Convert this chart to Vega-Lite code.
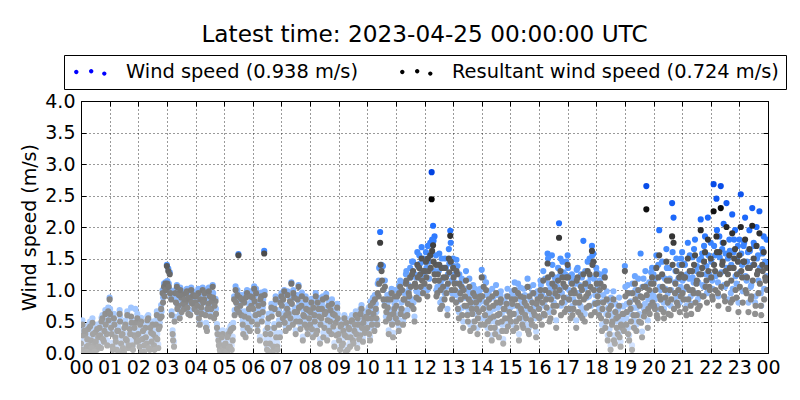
{
"$schema":"https://vega.github.io/schema/vega-lite/v6.json",
"width":687,"height":252,
"autosize":{"type":"none"},
"padding":{"left":81,"top":101,"right":32,"bottom":47},
"background":"white",
"title":{"text":"Latest time: 2023-04-25 00:00:00 UTC","fontSize":23.2,"font":"DejaVu Sans","fontWeight":"normal","color":"black","anchor":"middle","offset":7},
"datasets":{"ws":[
{"m":0,"w":0.22,"r":0.15},{"m":3,"w":0.52,"r":0.45},{"m":6,"w":0.12,"r":0.05},{"m":9,"w":0.36,"r":0.30},{"m":12,"w":0.18,"r":0.10},{"m":15,"w":0.44,"r":0.38},{"m":18,"w":0.08,"r":0.02},{"m":21,"w":0.28,"r":0.20},{"m":24,"w":0.55,"r":0.48},{"m":27,"w":0.20,"r":0.12},{"m":30,"w":0.40,"r":0.33},{"m":33,"w":0.10,"r":0.05},{"m":36,"w":0.32,"r":0.25},{"m":39,"w":0.46,"r":0.40},{"m":42,"w":0.15,"r":0.08},{"m":45,"w":0.60,"r":0.55},{"m":48,"w":0.25,"r":0.18},{"m":51,"w":0.68,"r":0.62},{"m":54,"w":0.36,"r":0.30},{"m":57,"w":0.72,"r":0.66},
{"m":1,"w":0.12,"r":0.05},{"m":4,"w":0.35,"r":0.28},{"m":7,"w":0.42,"r":0.35},{"m":10,"w":0.08,"r":0.02},{"m":13,"w":0.30,"r":0.22},{"m":16,"w":0.20,"r":0.12},{"m":19,"w":0.50,"r":0.42},{"m":22,"w":0.15,"r":0.08},{"m":25,"w":0.36,"r":0.30},{"m":28,"w":0.08,"r":0.02},{"m":31,"w":0.25,"r":0.18},{"m":34,"w":0.45,"r":0.38},{"m":37,"w":0.18,"r":0.10},{"m":40,"w":0.34,"r":0.28},{"m":43,"w":0.56,"r":0.50},{"m":46,"w":0.30,"r":0.22},{"m":49,"w":0.42,"r":0.35},{"m":52,"w":0.52,"r":0.45},{"m":55,"w":0.20,"r":0.12},{"m":58,"w":0.60,"r":0.52},
{"m":60,"w":0.88,"r":0.85},{"m":63,"w":0.48,"r":0.40},{"m":66,"w":0.16,"r":0.10},{"m":69,"w":0.62,"r":0.55},{"m":72,"w":0.32,"r":0.25},{"m":75,"w":0.12,"r":0.05},{"m":78,"w":0.42,"r":0.35},{"m":81,"w":0.68,"r":0.62},{"m":84,"w":0.22,"r":0.15},{"m":87,"w":0.36,"r":0.30},{"m":90,"w":0.08,"r":0.02},{"m":93,"w":0.52,"r":0.45},{"m":96,"w":0.26,"r":0.20},{"m":99,"w":0.14,"r":0.08},{"m":102,"w":0.44,"r":0.38},{"m":105,"w":0.72,"r":0.58},{"m":108,"w":0.20,"r":0.12},{"m":111,"w":0.34,"r":0.28},{"m":114,"w":0.70,"r":0.48},{"m":117,"w":0.24,"r":0.18},
{"m":61,"w":0.70,"r":0.62},{"m":64,"w":0.38,"r":0.30},{"m":67,"w":0.12,"r":0.05},{"m":70,"w":0.52,"r":0.45},{"m":73,"w":0.25,"r":0.18},{"m":76,"w":0.42,"r":0.35},{"m":79,"w":0.08,"r":0.02},{"m":82,"w":0.58,"r":0.50},{"m":85,"w":0.35,"r":0.28},{"m":88,"w":0.15,"r":0.08},{"m":91,"w":0.48,"r":0.40},{"m":94,"w":0.30,"r":0.22},{"m":97,"w":0.66,"r":0.60},{"m":100,"w":0.20,"r":0.12},{"m":103,"w":0.36,"r":0.30},{"m":106,"w":0.55,"r":0.48},{"m":109,"w":0.12,"r":0.05},{"m":112,"w":0.48,"r":0.40},{"m":115,"w":0.32,"r":0.25},{"m":118,"w":0.62,"r":0.55},
{"m":120,"w":0.36,"r":0.30},{"m":123,"w":0.16,"r":0.10},{"m":126,"w":0.56,"r":0.50},{"m":129,"w":0.28,"r":0.22},{"m":132,"w":0.08,"r":0.02},{"m":135,"w":0.46,"r":0.40},{"m":138,"w":0.22,"r":0.15},{"m":141,"w":0.60,"r":0.55},{"m":144,"w":0.12,"r":0.05},{"m":147,"w":0.38,"r":0.32},{"m":150,"w":0.50,"r":0.45},{"m":153,"w":0.18,"r":0.12},{"m":156,"w":0.32,"r":0.25},{"m":159,"w":0.66,"r":0.60},{"m":162,"w":0.14,"r":0.08},{"m":165,"w":0.48,"r":0.42},{"m":168,"w":0.76,"r":0.70},{"m":171,"w":1.00,"r":0.95},{"m":174,"w":1.10,"r":1.05},{"m":177,"w":1.12,"r":1.10},
{"m":121,"w":0.28,"r":0.20},{"m":124,"w":0.52,"r":0.45},{"m":127,"w":0.08,"r":0.02},{"m":130,"w":0.42,"r":0.35},{"m":133,"w":0.20,"r":0.12},{"m":136,"w":0.32,"r":0.25},{"m":139,"w":0.58,"r":0.52},{"m":142,"w":0.15,"r":0.08},{"m":145,"w":0.48,"r":0.40},{"m":148,"w":0.25,"r":0.18},{"m":151,"w":0.36,"r":0.30},{"m":154,"w":0.12,"r":0.05},{"m":157,"w":0.52,"r":0.45},{"m":160,"w":0.30,"r":0.22},{"m":163,"w":0.45,"r":0.38},{"m":166,"w":0.62,"r":0.55},{"m":169,"w":0.66,"r":0.58},{"m":172,"w":0.88,"r":0.80},{"m":175,"w":0.98,"r":0.90},{"m":178,"w":1.06,"r":1.00},
{"m":180,"w":1.40,"r":1.38},{"m":183,"w":1.34,"r":1.30},{"m":186,"w":1.28,"r":1.25},{"m":189,"w":0.90,"r":0.85},{"m":192,"w":0.36,"r":0.30},{"m":195,"w":0.18,"r":0.10},{"m":198,"w":1.00,"r":0.95},{"m":201,"w":1.08,"r":1.05},{"m":204,"w":0.80,"r":0.75},{"m":207,"w":0.62,"r":0.55},{"m":210,"w":0.92,"r":0.88},{"m":213,"w":0.96,"r":0.92},{"m":216,"w":0.76,"r":0.70},{"m":219,"w":0.86,"r":0.80},{"m":222,"w":1.02,"r":0.98},{"m":225,"w":0.68,"r":0.62},{"m":228,"w":0.90,"r":0.85},{"m":231,"w":1.04,"r":1.00},{"m":234,"w":0.84,"r":0.78},{"m":237,"w":0.95,"r":0.90},
{"m":181,"w":1.14,"r":1.10},{"m":184,"w":1.10,"r":1.05},{"m":187,"w":1.00,"r":0.95},{"m":190,"w":0.66,"r":0.60},{"m":193,"w":0.28,"r":0.20},{"m":196,"w":0.58,"r":0.50},{"m":199,"w":0.86,"r":0.80},{"m":202,"w":0.76,"r":0.70},{"m":205,"w":0.98,"r":0.92},{"m":208,"w":1.04,"r":1.00},{"m":211,"w":0.72,"r":0.65},{"m":214,"w":0.84,"r":0.78},{"m":217,"w":0.92,"r":0.85},{"m":220,"w":1.00,"r":0.95},{"m":223,"w":0.78,"r":0.72},{"m":226,"w":0.94,"r":0.88},{"m":229,"w":0.68,"r":0.60},{"m":232,"w":0.86,"r":0.80},{"m":235,"w":0.98,"r":0.92},{"m":238,"w":0.76,"r":0.70},
{"m":240,"w":0.84,"r":0.80},{"m":243,"w":0.70,"r":0.65},{"m":246,"w":1.02,"r":0.95},{"m":249,"w":0.50,"r":0.45},{"m":252,"w":0.78,"r":0.72},{"m":255,"w":1.04,"r":1.00},{"m":258,"w":0.90,"r":0.85},{"m":261,"w":0.66,"r":0.60},{"m":264,"w":0.42,"r":0.35},{"m":267,"w":0.84,"r":0.78},{"m":270,"w":0.94,"r":0.90},{"m":273,"w":0.76,"r":0.70},{"m":276,"w":1.08,"r":1.05},{"m":279,"w":0.60,"r":0.55},{"m":282,"w":0.86,"r":0.82},{"m":285,"w":0.46,"r":0.40},{"m":288,"w":0.26,"r":0.20},{"m":291,"w":0.10,"r":0.05},{"m":294,"w":0.18,"r":0.12},{"m":297,"w":0.36,"r":0.30},
{"m":241,"w":0.96,"r":0.90},{"m":244,"w":0.82,"r":0.75},{"m":247,"w":0.62,"r":0.55},{"m":250,"w":0.92,"r":0.85},{"m":253,"w":0.70,"r":0.62},{"m":256,"w":0.86,"r":0.80},{"m":259,"w":1.00,"r":0.95},{"m":262,"w":0.48,"r":0.40},{"m":265,"w":0.78,"r":0.70},{"m":268,"w":1.04,"r":0.98},{"m":271,"w":0.66,"r":0.58},{"m":274,"w":0.88,"r":0.82},{"m":277,"w":0.95,"r":0.88},{"m":280,"w":0.82,"r":0.75},{"m":283,"w":0.70,"r":0.62},{"m":286,"w":0.38,"r":0.30},{"m":289,"w":0.20,"r":0.12},{"m":292,"w":0.08,"r":0.02},{"m":295,"w":0.32,"r":0.25},{"m":298,"w":0.15,"r":0.08},
{"m":300,"w":0.10,"r":0.05},{"m":303,"w":0.22,"r":0.15},{"m":306,"w":0.08,"r":0.02},{"m":309,"w":0.36,"r":0.30},{"m":312,"w":0.16,"r":0.10},{"m":315,"w":0.44,"r":0.38},{"m":318,"w":0.26,"r":0.20},{"m":321,"w":0.90,"r":0.85},{"m":324,"w":1.06,"r":1.00},{"m":327,"w":0.78,"r":0.70},{"m":330,"w":1.57,"r":1.55},{"m":333,"w":0.92,"r":0.88},{"m":336,"w":0.66,"r":0.60},{"m":339,"w":0.52,"r":0.45},{"m":342,"w":0.86,"r":0.80},{"m":345,"w":0.32,"r":0.25},{"m":348,"w":1.00,"r":0.95},{"m":351,"w":0.62,"r":0.55},{"m":354,"w":0.42,"r":0.35},{"m":357,"w":0.82,"r":0.75},
{"m":301,"w":0.20,"r":0.12},{"m":304,"w":0.08,"r":0.02},{"m":307,"w":0.32,"r":0.25},{"m":310,"w":0.15,"r":0.08},{"m":313,"w":0.42,"r":0.35},{"m":316,"w":0.12,"r":0.05},{"m":319,"w":0.48,"r":0.40},{"m":322,"w":0.68,"r":0.60},{"m":325,"w":0.88,"r":0.80},{"m":328,"w":1.00,"r":0.92},{"m":331,"w":0.72,"r":0.65},{"m":334,"w":0.82,"r":0.75},{"m":337,"w":0.92,"r":0.85},{"m":340,"w":0.38,"r":0.30},{"m":343,"w":0.66,"r":0.58},{"m":346,"w":0.95,"r":0.88},{"m":349,"w":0.48,"r":0.40},{"m":352,"w":0.78,"r":0.70},{"m":355,"w":0.98,"r":0.90},{"m":358,"w":0.58,"r":0.50},
{"m":360,"w":0.92,"r":0.88},{"m":363,"w":1.06,"r":1.02},{"m":366,"w":0.66,"r":0.60},{"m":369,"w":0.52,"r":0.45},{"m":372,"w":0.80,"r":0.75},{"m":375,"w":0.26,"r":0.20},{"m":378,"w":0.96,"r":0.90},{"m":381,"w":0.72,"r":0.65},{"m":384,"w":1.62,"r":1.58},{"m":387,"w":0.36,"r":0.30},{"m":390,"w":0.10,"r":0.05},{"m":393,"w":0.62,"r":0.55},{"m":396,"w":0.22,"r":0.15},{"m":399,"w":0.78,"r":0.72},{"m":402,"w":0.08,"r":0.02},{"m":405,"w":0.46,"r":0.40},{"m":408,"w":0.90,"r":0.85},{"m":411,"w":0.16,"r":0.10},{"m":414,"w":0.68,"r":0.62},{"m":417,"w":0.32,"r":0.25},
{"m":361,"w":0.78,"r":0.70},{"m":364,"w":0.90,"r":0.82},{"m":367,"w":1.02,"r":0.95},{"m":370,"w":0.42,"r":0.35},{"m":373,"w":0.70,"r":0.62},{"m":376,"w":0.92,"r":0.85},{"m":379,"w":0.58,"r":0.50},{"m":382,"w":0.85,"r":0.78},{"m":385,"w":0.98,"r":0.92},{"m":388,"w":0.22,"r":0.15},{"m":391,"w":0.48,"r":0.40},{"m":394,"w":0.08,"r":0.02},{"m":397,"w":0.38,"r":0.30},{"m":400,"w":0.65,"r":0.58},{"m":403,"w":0.18,"r":0.10},{"m":406,"w":0.78,"r":0.70},{"m":409,"w":0.32,"r":0.25},{"m":412,"w":0.12,"r":0.05},{"m":415,"w":0.52,"r":0.45},{"m":418,"w":0.88,"r":0.80},
{"m":420,"w":0.95,"r":0.90},{"m":423,"w":0.62,"r":0.55},{"m":426,"w":1.00,"r":0.98},{"m":429,"w":0.42,"r":0.35},{"m":432,"w":0.76,"r":0.70},{"m":435,"w":0.68,"r":0.62},{"m":438,"w":0.88,"r":0.82},{"m":441,"w":1.12,"r":1.10},{"m":444,"w":0.52,"r":0.45},{"m":447,"w":0.92,"r":0.88},{"m":450,"w":0.36,"r":0.30},{"m":453,"w":0.72,"r":0.65},{"m":456,"w":1.08,"r":1.05},{"m":459,"w":0.56,"r":0.50},{"m":462,"w":0.80,"r":0.75},{"m":465,"w":0.26,"r":0.20},{"m":468,"w":0.64,"r":0.58},{"m":471,"w":0.90,"r":0.85},{"m":474,"w":0.46,"r":0.40},{"m":477,"w":0.74,"r":0.68},
{"m":421,"w":0.82,"r":0.75},{"m":424,"w":0.92,"r":0.85},{"m":427,"w":0.55,"r":0.48},{"m":430,"w":0.68,"r":0.60},{"m":433,"w":0.98,"r":0.92},{"m":436,"w":0.48,"r":0.40},{"m":439,"w":0.62,"r":0.55},{"m":442,"w":0.85,"r":0.78},{"m":445,"w":1.00,"r":0.95},{"m":448,"w":0.72,"r":0.65},{"m":451,"w":0.58,"r":0.50},{"m":454,"w":0.92,"r":0.85},{"m":457,"w":0.80,"r":0.72},{"m":460,"w":0.45,"r":0.38},{"m":463,"w":0.96,"r":0.90},{"m":466,"w":0.68,"r":0.60},{"m":469,"w":0.52,"r":0.45},{"m":472,"w":0.78,"r":0.70},{"m":475,"w":0.38,"r":0.30},{"m":478,"w":0.62,"r":0.55},
{"m":480,"w":0.52,"r":0.45},{"m":483,"w":0.86,"r":0.80},{"m":486,"w":0.32,"r":0.25},{"m":489,"w":0.66,"r":0.60},{"m":492,"w":0.95,"r":0.90},{"m":495,"w":0.42,"r":0.35},{"m":498,"w":0.76,"r":0.70},{"m":501,"w":0.22,"r":0.15},{"m":504,"w":0.62,"r":0.55},{"m":507,"w":0.90,"r":0.85},{"m":510,"w":0.46,"r":0.40},{"m":513,"w":0.72,"r":0.65},{"m":516,"w":0.28,"r":0.20},{"m":519,"w":0.80,"r":0.75},{"m":522,"w":0.56,"r":0.50},{"m":525,"w":0.36,"r":0.30},{"m":528,"w":0.68,"r":0.62},{"m":531,"w":0.16,"r":0.10},{"m":534,"w":0.54,"r":0.48},{"m":537,"w":0.78,"r":0.72},
{"m":481,"w":0.72,"r":0.65},{"m":484,"w":0.45,"r":0.38},{"m":487,"w":0.80,"r":0.72},{"m":490,"w":0.58,"r":0.50},{"m":493,"w":0.38,"r":0.30},{"m":496,"w":0.88,"r":0.80},{"m":499,"w":0.66,"r":0.58},{"m":502,"w":0.52,"r":0.45},{"m":505,"w":0.78,"r":0.70},{"m":508,"w":0.32,"r":0.25},{"m":511,"w":0.70,"r":0.62},{"m":514,"w":0.94,"r":0.88},{"m":517,"w":0.60,"r":0.52},{"m":520,"w":0.42,"r":0.35},{"m":523,"w":0.75,"r":0.68},{"m":526,"w":0.85,"r":0.78},{"m":529,"w":0.50,"r":0.42},{"m":532,"w":0.68,"r":0.60},{"m":535,"w":0.35,"r":0.28},{"m":538,"w":0.62,"r":0.55},
{"m":540,"w":0.36,"r":0.30},{"m":543,"w":0.10,"r":0.05},{"m":546,"w":0.52,"r":0.45},{"m":549,"w":0.22,"r":0.15},{"m":552,"w":0.60,"r":0.55},{"m":555,"w":0.08,"r":0.02},{"m":558,"w":0.32,"r":0.25},{"m":561,"w":0.46,"r":0.40},{"m":564,"w":0.16,"r":0.10},{"m":567,"w":0.56,"r":0.50},{"m":570,"w":0.26,"r":0.20},{"m":573,"w":0.42,"r":0.35},{"m":576,"w":0.66,"r":0.60},{"m":579,"w":0.14,"r":0.08},{"m":582,"w":0.52,"r":0.45},{"m":585,"w":0.34,"r":0.28},{"m":588,"w":0.76,"r":0.70},{"m":591,"w":0.24,"r":0.18},{"m":594,"w":0.62,"r":0.55},{"m":597,"w":0.44,"r":0.38},
{"m":541,"w":0.28,"r":0.20},{"m":544,"w":0.50,"r":0.42},{"m":547,"w":0.20,"r":0.12},{"m":550,"w":0.42,"r":0.35},{"m":553,"w":0.35,"r":0.28},{"m":556,"w":0.55,"r":0.48},{"m":559,"w":0.12,"r":0.05},{"m":562,"w":0.45,"r":0.38},{"m":565,"w":0.32,"r":0.25},{"m":568,"w":0.60,"r":0.52},{"m":571,"w":0.22,"r":0.15},{"m":574,"w":0.52,"r":0.45},{"m":577,"w":0.38,"r":0.30},{"m":580,"w":0.62,"r":0.55},{"m":583,"w":0.30,"r":0.22},{"m":586,"w":0.70,"r":0.62},{"m":589,"w":0.48,"r":0.40},{"m":592,"w":0.55,"r":0.48},{"m":595,"w":0.40,"r":0.32},{"m":598,"w":0.66,"r":0.58},
{"m":600,"w":0.46,"r":0.40},{"m":603,"w":0.72,"r":0.65},{"m":606,"w":0.26,"r":0.20},{"m":609,"w":0.62,"r":0.55},{"m":612,"w":0.88,"r":0.80},{"m":615,"w":0.42,"r":0.35},{"m":618,"w":0.78,"r":0.70},{"m":621,"w":0.52,"r":0.45},{"m":624,"w":1.15,"r":0.90},{"m":627,"w":1.92,"r":1.75},{"m":630,"w":1.40,"r":1.30},{"m":633,"w":1.38,"r":1.00},{"m":636,"w":0.82,"r":0.75},{"m":639,"w":0.58,"r":0.50},{"m":642,"w":0.92,"r":0.85},{"m":645,"w":0.36,"r":0.30},{"m":648,"w":0.68,"r":0.60},{"m":651,"w":1.02,"r":0.95},{"m":654,"w":0.32,"r":0.25},{"m":657,"w":0.78,"r":0.70},
{"m":601,"w":0.62,"r":0.55},{"m":604,"w":0.38,"r":0.30},{"m":607,"w":0.82,"r":0.75},{"m":610,"w":0.52,"r":0.45},{"m":613,"w":0.70,"r":0.62},{"m":616,"w":0.92,"r":0.85},{"m":619,"w":0.65,"r":0.55},{"m":622,"w":1.10,"r":0.95},{"m":625,"w":1.35,"r":1.10},{"m":628,"w":1.38,"r":1.40},{"m":631,"w":1.38,"r":1.15},{"m":634,"w":1.00,"r":0.85},{"m":637,"w":1.15,"r":1.05},{"m":640,"w":0.75,"r":0.65},{"m":643,"w":0.80,"r":0.72},{"m":646,"w":0.62,"r":0.55},{"m":649,"w":0.95,"r":0.85},{"m":652,"w":0.52,"r":0.45},{"m":655,"w":0.70,"r":0.62},{"m":658,"w":1.00,"r":0.90},
{"m":660,"w":0.62,"r":0.55},{"m":663,"w":1.00,"r":0.90},{"m":666,"w":0.42,"r":0.35},{"m":669,"w":1.15,"r":1.05},{"m":672,"w":0.80,"r":0.70},{"m":675,"w":0.52,"r":0.45},{"m":678,"w":0.95,"r":0.85},{"m":681,"w":1.25,"r":1.10},{"m":684,"w":0.68,"r":0.60},{"m":687,"w":1.08,"r":0.95},{"m":690,"w":1.35,"r":1.20},{"m":693,"w":0.85,"r":0.75},{"m":696,"w":1.45,"r":1.30},{"m":699,"w":0.58,"r":0.50},{"m":702,"w":1.20,"r":1.05},{"m":705,"w":1.60,"r":1.40},{"m":708,"w":0.95,"r":0.85},{"m":711,"w":1.42,"r":1.25},{"m":714,"w":1.68,"r":1.50},{"m":717,"w":1.05,"r":0.95},
{"m":661,"w":0.85,"r":0.75},{"m":664,"w":0.55,"r":0.48},{"m":667,"w":1.08,"r":0.95},{"m":670,"w":0.70,"r":0.62},{"m":673,"w":1.12,"r":1.00},{"m":676,"w":0.98,"r":0.85},{"m":679,"w":0.66,"r":0.58},{"m":682,"w":1.30,"r":1.15},{"m":685,"w":0.88,"r":0.78},{"m":688,"w":1.02,"r":0.90},{"m":691,"w":1.20,"r":1.05},{"m":694,"w":1.45,"r":1.25},{"m":697,"w":0.80,"r":0.70},{"m":700,"w":1.25,"r":1.10},{"m":703,"w":0.98,"r":0.88},{"m":706,"w":1.38,"r":1.20},{"m":709,"w":1.55,"r":1.35},{"m":712,"w":1.18,"r":1.05},{"m":715,"w":1.30,"r":1.15},{"m":718,"w":1.50,"r":1.30},
{"m":720,"w":1.25,"r":1.10},{"m":723,"w":1.60,"r":1.45},{"m":726,"w":1.00,"r":0.90},{"m":729,"w":1.45,"r":1.30},{"m":732,"w":1.75,"r":1.55},{"m":735,"w":2.87,"r":2.44},{"m":738,"w":2.02,"r":1.71},{"m":741,"w":1.85,"r":1.25},{"m":744,"w":1.55,"r":1.40},{"m":747,"w":1.05,"r":0.95},{"m":750,"w":1.30,"r":1.15},{"m":753,"w":0.80,"r":0.70},{"m":756,"w":1.50,"r":1.35},{"m":759,"w":1.18,"r":1.05},{"m":762,"w":0.95,"r":0.85},{"m":765,"w":1.35,"r":1.20},{"m":768,"w":0.70,"r":0.60},{"m":771,"w":1.65,"r":1.50},{"m":774,"w":1.94,"r":1.86},{"m":777,"w":1.15,"r":1.00},
{"m":721,"w":1.45,"r":1.30},{"m":724,"w":1.35,"r":1.20},{"m":727,"w":1.70,"r":1.50},{"m":730,"w":1.18,"r":1.05},{"m":733,"w":1.55,"r":1.35},{"m":736,"w":1.80,"r":1.62},{"m":739,"w":1.78,"r":1.45},{"m":742,"w":1.30,"r":1.15},{"m":745,"w":1.00,"r":0.90},{"m":748,"w":1.40,"r":1.25},{"m":751,"w":1.58,"r":1.40},{"m":754,"w":1.12,"r":1.00},{"m":757,"w":0.85,"r":0.75},{"m":760,"w":1.35,"r":1.20},{"m":763,"w":1.50,"r":1.35},{"m":766,"w":1.05,"r":0.95},{"m":769,"w":1.25,"r":1.10},{"m":772,"w":1.42,"r":1.28},{"m":775,"w":1.75,"r":1.45},{"m":778,"w":0.95,"r":0.85},
{"m":780,"w":1.50,"r":1.35},{"m":783,"w":1.25,"r":1.10},{"m":786,"w":0.92,"r":0.80},{"m":789,"w":1.38,"r":1.25},{"m":792,"w":0.65,"r":0.55},{"m":795,"w":1.08,"r":0.95},{"m":798,"w":1.18,"r":1.05},{"m":801,"w":0.50,"r":0.40},{"m":804,"w":0.88,"r":0.75},{"m":807,"w":1.30,"r":1.15},{"m":810,"w":0.72,"r":0.60},{"m":813,"w":0.98,"r":0.85},{"m":816,"w":0.45,"r":0.35},{"m":819,"w":0.82,"r":0.70},{"m":822,"w":1.08,"r":0.95},{"m":825,"w":0.62,"r":0.50},{"m":828,"w":0.92,"r":0.80},{"m":831,"w":0.40,"r":0.30},{"m":834,"w":0.78,"r":0.65},{"m":837,"w":1.02,"r":0.90},
{"m":781,"w":1.38,"r":1.20},{"m":784,"w":1.12,"r":1.00},{"m":787,"w":1.48,"r":1.30},{"m":790,"w":0.82,"r":0.70},{"m":793,"w":1.25,"r":1.10},{"m":796,"w":0.98,"r":0.85},{"m":799,"w":0.72,"r":0.60},{"m":802,"w":1.15,"r":1.00},{"m":805,"w":1.02,"r":0.90},{"m":808,"w":0.88,"r":0.75},{"m":811,"w":0.62,"r":0.50},{"m":814,"w":1.18,"r":1.05},{"m":817,"w":0.92,"r":0.80},{"m":820,"w":0.75,"r":0.62},{"m":823,"w":0.50,"r":0.40},{"m":826,"w":1.02,"r":0.90},{"m":829,"w":0.82,"r":0.70},{"m":832,"w":0.68,"r":0.55},{"m":835,"w":0.98,"r":0.85},{"m":838,"w":0.55,"r":0.45},
{"m":840,"w":1.32,"r":1.20},{"m":843,"w":0.82,"r":0.70},{"m":846,"w":0.55,"r":0.45},{"m":849,"w":1.12,"r":1.00},{"m":852,"w":0.40,"r":0.30},{"m":855,"w":0.98,"r":0.85},{"m":858,"w":0.66,"r":0.55},{"m":861,"w":0.28,"r":0.20},{"m":864,"w":0.88,"r":0.75},{"m":867,"w":0.50,"r":0.40},{"m":870,"w":1.08,"r":0.95},{"m":873,"w":0.72,"r":0.60},{"m":876,"w":0.34,"r":0.25},{"m":879,"w":0.92,"r":0.80},{"m":882,"w":0.62,"r":0.50},{"m":885,"w":0.22,"r":0.15},{"m":888,"w":0.82,"r":0.70},{"m":891,"w":0.45,"r":0.35},{"m":894,"w":1.02,"r":0.90},{"m":897,"w":0.66,"r":0.55},
{"m":841,"w":1.02,"r":0.90},{"m":844,"w":1.20,"r":1.05},{"m":847,"w":0.72,"r":0.60},{"m":850,"w":0.92,"r":0.80},{"m":853,"w":0.62,"r":0.50},{"m":856,"w":0.85,"r":0.72},{"m":859,"w":0.50,"r":0.40},{"m":862,"w":1.02,"r":0.90},{"m":865,"w":0.70,"r":0.58},{"m":868,"w":0.40,"r":0.30},{"m":871,"w":0.92,"r":0.80},{"m":874,"w":0.60,"r":0.48},{"m":877,"w":0.75,"r":0.62},{"m":880,"w":0.98,"r":0.85},{"m":883,"w":0.45,"r":0.35},{"m":886,"w":0.82,"r":0.70},{"m":889,"w":0.68,"r":0.55},{"m":892,"w":0.90,"r":0.78},{"m":895,"w":0.52,"r":0.42},{"m":898,"w":0.78,"r":0.65},
{"m":900,"w":0.72,"r":0.60},{"m":903,"w":0.98,"r":0.85},{"m":906,"w":0.45,"r":0.35},{"m":909,"w":1.12,"r":1.00},{"m":912,"w":0.62,"r":0.50},{"m":915,"w":0.88,"r":0.75},{"m":918,"w":0.30,"r":0.20},{"m":921,"w":1.04,"r":0.90},{"m":924,"w":0.78,"r":0.65},{"m":927,"w":0.52,"r":0.40},{"m":930,"w":0.92,"r":0.80},{"m":933,"w":0.68,"r":0.55},{"m":936,"w":1.18,"r":1.05},{"m":939,"w":0.40,"r":0.30},{"m":942,"w":0.84,"r":0.70},{"m":945,"w":0.58,"r":0.45},{"m":948,"w":1.08,"r":0.95},{"m":951,"w":0.72,"r":0.60},{"m":954,"w":0.34,"r":0.25},{"m":957,"w":0.98,"r":0.85},
{"m":901,"w":0.62,"r":0.50},{"m":904,"w":0.92,"r":0.78},{"m":907,"w":0.75,"r":0.62},{"m":910,"w":1.00,"r":0.85},{"m":913,"w":0.52,"r":0.40},{"m":916,"w":1.10,"r":0.95},{"m":919,"w":0.68,"r":0.55},{"m":922,"w":0.84,"r":0.70},{"m":925,"w":0.58,"r":0.45},{"m":928,"w":1.02,"r":0.88},{"m":931,"w":0.72,"r":0.60},{"m":934,"w":0.90,"r":0.75},{"m":937,"w":0.45,"r":0.35},{"m":940,"w":1.05,"r":0.90},{"m":943,"w":0.65,"r":0.52},{"m":946,"w":0.95,"r":0.80},{"m":949,"w":0.78,"r":0.65},{"m":952,"w":0.55,"r":0.42},{"m":955,"w":0.92,"r":0.78},{"m":958,"w":0.72,"r":0.58},
{"m":960,"w":0.85,"r":0.70},{"m":963,"w":1.15,"r":1.00},{"m":966,"w":0.58,"r":0.45},{"m":969,"w":1.30,"r":1.15},{"m":972,"w":0.75,"r":0.60},{"m":975,"w":1.00,"r":0.85},{"m":978,"w":1.58,"r":1.42},{"m":981,"w":1.10,"r":0.95},{"m":984,"w":0.68,"r":0.55},{"m":987,"w":1.55,"r":1.25},{"m":990,"w":0.90,"r":0.75},{"m":993,"w":1.20,"r":1.05},{"m":996,"w":0.52,"r":0.40},{"m":999,"w":1.05,"r":0.90},{"m":1002,"w":2.06,"r":1.83},{"m":1005,"w":1.50,"r":1.30},{"m":1008,"w":0.95,"r":0.80},{"m":1011,"w":1.28,"r":1.10},{"m":1014,"w":0.80,"r":0.65},{"m":1017,"w":1.45,"r":1.20},
{"m":961,"w":0.70,"r":0.55},{"m":964,"w":1.08,"r":0.90},{"m":967,"w":0.95,"r":0.80},{"m":970,"w":0.78,"r":0.62},{"m":973,"w":1.18,"r":1.00},{"m":976,"w":0.88,"r":0.72},{"m":979,"w":1.50,"r":1.20},{"m":982,"w":0.65,"r":0.50},{"m":985,"w":1.02,"r":0.85},{"m":988,"w":1.40,"r":1.10},{"m":991,"w":0.80,"r":0.65},{"m":994,"w":1.12,"r":0.95},{"m":997,"w":0.90,"r":0.75},{"m":1000,"w":1.35,"r":1.15},{"m":1003,"w":1.22,"r":1.00},{"m":1006,"w":0.75,"r":0.60},{"m":1009,"w":1.45,"r":1.20},{"m":1012,"w":1.05,"r":0.88},{"m":1015,"w":1.25,"r":1.05},{"m":1018,"w":0.88,"r":0.70},
{"m":1020,"w":1.55,"r":1.40},{"m":1023,"w":1.00,"r":0.85},{"m":1026,"w":0.68,"r":0.55},{"m":1029,"w":1.25,"r":1.10},{"m":1032,"w":0.85,"r":0.70},{"m":1035,"w":1.10,"r":0.95},{"m":1038,"w":0.52,"r":0.40},{"m":1041,"w":1.35,"r":1.20},{"m":1044,"w":0.95,"r":0.80},{"m":1047,"w":0.75,"r":0.60},{"m":1050,"w":1.20,"r":1.00},{"m":1053,"w":1.78,"r":1.25},{"m":1056,"w":0.62,"r":0.50},{"m":1059,"w":1.05,"r":0.90},{"m":1062,"w":1.45,"r":1.30},{"m":1065,"w":0.90,"r":0.75},{"m":1068,"w":1.20,"r":1.05},{"m":1071,"w":1.70,"r":1.62},{"m":1074,"w":1.58,"r":1.45},{"m":1077,"w":0.80,"r":0.65},
{"m":1021,"w":1.35,"r":1.20},{"m":1024,"w":0.85,"r":0.70},{"m":1027,"w":1.12,"r":0.95},{"m":1030,"w":0.75,"r":0.60},{"m":1033,"w":1.18,"r":1.00},{"m":1036,"w":0.95,"r":0.80},{"m":1039,"w":1.32,"r":1.15},{"m":1042,"w":0.80,"r":0.65},{"m":1045,"w":1.08,"r":0.90},{"m":1048,"w":1.25,"r":1.05},{"m":1051,"w":0.70,"r":0.55},{"m":1054,"w":1.02,"r":0.85},{"m":1057,"w":1.30,"r":1.10},{"m":1060,"w":0.88,"r":0.72},{"m":1063,"w":1.12,"r":0.95},{"m":1066,"w":1.50,"r":1.25},{"m":1069,"w":0.75,"r":0.60},{"m":1072,"w":1.55,"r":1.40},{"m":1075,"w":1.18,"r":1.00},{"m":1078,"w":0.92,"r":0.78},
{"m":1080,"w":1.35,"r":1.25},{"m":1083,"w":1.05,"r":0.90},{"m":1086,"w":0.72,"r":0.60},{"m":1089,"w":1.25,"r":1.10},{"m":1092,"w":0.45,"r":0.35},{"m":1095,"w":0.92,"r":0.80},{"m":1098,"w":1.30,"r":1.20},{"m":1101,"w":0.62,"r":0.50},{"m":1104,"w":0.28,"r":0.20},{"m":1107,"w":0.82,"r":0.70},{"m":1110,"w":0.12,"r":0.05},{"m":1113,"w":0.55,"r":0.45},{"m":1116,"w":0.98,"r":0.85},{"m":1119,"w":0.22,"r":0.15},{"m":1122,"w":0.66,"r":0.55},{"m":1125,"w":0.38,"r":0.30},{"m":1128,"w":0.88,"r":0.75},{"m":1131,"w":0.18,"r":0.10},{"m":1134,"w":0.50,"r":0.40},{"m":1137,"w":0.74,"r":0.62},
{"m":1081,"w":1.28,"r":1.10},{"m":1084,"w":0.92,"r":0.80},{"m":1087,"w":1.15,"r":1.00},{"m":1090,"w":0.68,"r":0.55},{"m":1093,"w":0.82,"r":0.70},{"m":1096,"w":1.22,"r":1.05},{"m":1099,"w":0.50,"r":0.40},{"m":1102,"w":0.98,"r":0.85},{"m":1105,"w":0.72,"r":0.60},{"m":1108,"w":0.38,"r":0.30},{"m":1111,"w":0.88,"r":0.75},{"m":1114,"w":0.62,"r":0.50},{"m":1117,"w":0.28,"r":0.20},{"m":1120,"w":0.78,"r":0.65},{"m":1123,"w":0.50,"r":0.40},{"m":1126,"w":0.70,"r":0.58},{"m":1129,"w":0.32,"r":0.25},{"m":1132,"w":0.55,"r":0.45},{"m":1135,"w":0.75,"r":0.62},{"m":1138,"w":0.45,"r":0.35},
{"m":1140,"w":1.38,"r":1.30},{"m":1143,"w":0.55,"r":0.45},{"m":1146,"w":1.08,"r":0.95},{"m":1149,"w":0.28,"r":0.20},{"m":1152,"w":0.82,"r":0.70},{"m":1155,"w":0.12,"r":0.05},{"m":1158,"w":0.72,"r":0.60},{"m":1161,"w":1.22,"r":1.10},{"m":1164,"w":0.45,"r":0.35},{"m":1167,"w":0.92,"r":0.80},{"m":1170,"w":0.62,"r":0.50},{"m":1173,"w":1.58,"r":0.90},{"m":1176,"w":0.34,"r":0.25},{"m":1179,"w":1.18,"r":1.05},{"m":1182,"w":0.78,"r":0.65},{"m":1185,"w":2.65,"r":2.28},{"m":1188,"w":0.52,"r":0.40},{"m":1191,"w":1.12,"r":1.00},{"m":1194,"w":0.88,"r":0.75},{"m":1197,"w":1.35,"r":1.20},
{"m":1141,"w":1.05,"r":0.90},{"m":1144,"w":0.78,"r":0.65},{"m":1147,"w":0.40,"r":0.30},{"m":1150,"w":0.95,"r":0.80},{"m":1153,"w":0.62,"r":0.50},{"m":1156,"w":1.10,"r":0.95},{"m":1159,"w":0.52,"r":0.40},{"m":1162,"w":1.00,"r":0.85},{"m":1165,"w":0.72,"r":0.60},{"m":1168,"w":1.18,"r":1.00},{"m":1171,"w":0.90,"r":0.75},{"m":1174,"w":0.60,"r":0.48},{"m":1177,"w":1.05,"r":0.88},{"m":1180,"w":0.70,"r":0.58},{"m":1183,"w":1.30,"r":1.05},{"m":1186,"w":1.08,"r":0.92},{"m":1189,"w":0.85,"r":0.70},{"m":1192,"w":0.75,"r":0.62},{"m":1195,"w":1.28,"r":1.10},{"m":1198,"w":0.95,"r":0.80},
{"m":1200,"w":1.25,"r":1.10},{"m":1203,"w":0.85,"r":0.70},{"m":1206,"w":1.55,"r":1.35},{"m":1209,"w":0.70,"r":0.55},{"m":1212,"w":1.95,"r":1.55},{"m":1215,"w":1.00,"r":0.85},{"m":1218,"w":1.45,"r":1.25},{"m":1221,"w":0.80,"r":0.65},{"m":1224,"w":1.18,"r":1.00},{"m":1227,"w":1.65,"r":1.45},{"m":1230,"w":0.95,"r":0.80},{"m":1233,"w":1.35,"r":1.15},{"m":1236,"w":0.75,"r":0.60},{"m":1239,"w":2.38,"r":1.85},{"m":1242,"w":2.15,"r":1.75},{"m":1245,"w":1.12,"r":0.95},{"m":1248,"w":1.50,"r":1.30},{"m":1251,"w":0.90,"r":0.75},{"m":1254,"w":1.40,"r":1.20},{"m":1257,"w":1.05,"r":0.90},
{"m":1201,"w":0.90,"r":0.75},{"m":1204,"w":1.18,"r":1.00},{"m":1207,"w":0.75,"r":0.60},{"m":1210,"w":1.40,"r":1.20},{"m":1213,"w":1.05,"r":0.90},{"m":1216,"w":0.85,"r":0.70},{"m":1219,"w":1.22,"r":1.05},{"m":1222,"w":0.70,"r":0.55},{"m":1225,"w":1.02,"r":0.88},{"m":1228,"w":1.35,"r":1.15},{"m":1231,"w":0.78,"r":0.62},{"m":1234,"w":1.18,"r":1.00},{"m":1237,"w":1.00,"r":0.85},{"m":1240,"w":1.60,"r":1.40},{"m":1243,"w":0.85,"r":0.70},{"m":1246,"w":1.30,"r":1.10},{"m":1249,"w":0.95,"r":0.80},{"m":1252,"w":1.18,"r":1.00},{"m":1255,"w":0.80,"r":0.65},{"m":1258,"w":1.50,"r":1.25},
{"m":1260,"w":1.60,"r":1.40},{"m":1263,"w":1.00,"r":0.85},{"m":1266,"w":1.40,"r":1.20},{"m":1269,"w":0.75,"r":0.60},{"m":1272,"w":1.75,"r":1.50},{"m":1275,"w":1.18,"r":1.00},{"m":1278,"w":0.90,"r":0.75},{"m":1281,"w":1.52,"r":1.30},{"m":1284,"w":1.12,"r":0.95},{"m":1287,"w":1.80,"r":1.55},{"m":1290,"w":1.30,"r":1.10},{"m":1293,"w":0.85,"r":0.70},{"m":1296,"w":1.48,"r":1.25},{"m":1299,"w":2.12,"r":1.95},{"m":1302,"w":1.58,"r":1.35},{"m":1305,"w":1.05,"r":0.90},{"m":1308,"w":1.85,"r":1.60},{"m":1311,"w":1.38,"r":1.15},{"m":1314,"w":2.15,"r":1.80},{"m":1317,"w":1.25,"r":1.05},
{"m":1261,"w":1.15,"r":0.95},{"m":1264,"w":1.42,"r":1.20},{"m":1267,"w":0.85,"r":0.70},{"m":1270,"w":1.25,"r":1.05},{"m":1273,"w":1.02,"r":0.85},{"m":1276,"w":1.55,"r":1.30},{"m":1279,"w":0.78,"r":0.62},{"m":1282,"w":1.20,"r":1.00},{"m":1285,"w":1.65,"r":1.40},{"m":1288,"w":0.95,"r":0.80},{"m":1291,"w":1.38,"r":1.15},{"m":1294,"w":1.12,"r":0.95},{"m":1297,"w":0.90,"r":0.75},{"m":1300,"w":1.50,"r":1.25},{"m":1303,"w":1.08,"r":0.90},{"m":1306,"w":1.70,"r":1.45},{"m":1309,"w":1.25,"r":1.05},{"m":1312,"w":0.95,"r":0.80},{"m":1315,"w":1.55,"r":1.30},{"m":1318,"w":1.20,"r":1.00},
{"m":1320,"w":1.75,"r":1.50},{"m":1323,"w":1.15,"r":0.90},{"m":1326,"w":2.68,"r":2.25},{"m":1329,"w":1.55,"r":1.30},{"m":1332,"w":2.45,"r":1.85},{"m":1335,"w":1.12,"r":0.95},{"m":1338,"w":1.85,"r":1.60},{"m":1341,"w":2.65,"r":2.30},{"m":1344,"w":1.65,"r":1.40},{"m":1347,"w":2.05,"r":1.75},{"m":1350,"w":1.05,"r":0.82},{"m":1353,"w":2.38,"r":2.00},{"m":1356,"w":1.50,"r":1.25},{"m":1359,"w":1.80,"r":1.55},{"m":1362,"w":0.95,"r":0.80},{"m":1365,"w":2.20,"r":1.90},{"m":1368,"w":1.60,"r":1.35},{"m":1371,"w":1.95,"r":1.65},{"m":1374,"w":1.10,"r":0.88},{"m":1377,"w":1.70,"r":1.45},
{"m":1321,"w":1.45,"r":1.20},{"m":1324,"w":1.02,"r":0.85},{"m":1327,"w":1.70,"r":1.40},{"m":1330,"w":1.22,"r":1.00},{"m":1333,"w":1.95,"r":1.60},{"m":1336,"w":0.90,"r":0.75},{"m":1339,"w":1.52,"r":1.25},{"m":1342,"w":1.28,"r":1.05},{"m":1345,"w":1.75,"r":1.45},{"m":1348,"w":1.08,"r":0.90},{"m":1351,"w":1.58,"r":1.30},{"m":1354,"w":1.35,"r":1.10},{"m":1357,"w":0.85,"r":0.70},{"m":1360,"w":1.62,"r":1.35},{"m":1363,"w":1.40,"r":1.15},{"m":1366,"w":1.02,"r":0.85},{"m":1369,"w":1.80,"r":1.50},{"m":1372,"w":1.22,"r":1.00},{"m":1375,"w":1.50,"r":1.25},{"m":1378,"w":0.80,"r":0.65},
{"m":1380,"w":1.80,"r":1.55},{"m":1383,"w":2.52,"r":2.00},{"m":1386,"w":1.40,"r":1.20},{"m":1389,"w":1.70,"r":1.45},{"m":1392,"w":2.15,"r":1.80},{"m":1395,"w":1.15,"r":0.95},{"m":1398,"w":1.60,"r":1.35},{"m":1401,"w":1.95,"r":1.65},{"m":1404,"w":1.05,"r":0.85},{"m":1407,"w":2.30,"r":2.02},{"m":1410,"w":1.75,"r":1.50},{"m":1413,"w":0.80,"r":0.62},{"m":1416,"w":2.00,"r":1.70},{"m":1419,"w":1.55,"r":1.30},{"m":1422,"w":2.25,"r":1.90},{"m":1425,"w":0.95,"r":0.75},{"m":1428,"w":1.65,"r":1.40},{"m":1431,"w":1.85,"r":1.60},{"m":1434,"w":1.45,"r":1.20},{"m":1437,"w":1.80,"r":1.35},
{"m":1381,"w":1.28,"r":1.05},{"m":1384,"w":1.58,"r":1.30},{"m":1387,"w":0.98,"r":0.80},{"m":1390,"w":1.75,"r":1.45},{"m":1393,"w":1.22,"r":1.00},{"m":1396,"w":1.45,"r":1.20},{"m":1399,"w":0.80,"r":0.65},{"m":1402,"w":1.62,"r":1.35},{"m":1405,"w":1.08,"r":0.90},{"m":1408,"w":1.40,"r":1.15},{"m":1411,"w":1.70,"r":1.40},{"m":1414,"w":0.90,"r":0.75},{"m":1417,"w":1.50,"r":1.25},{"m":1420,"w":1.15,"r":0.95},{"m":1423,"w":1.35,"r":1.10},{"m":1426,"w":0.75,"r":0.60},{"m":1429,"w":1.58,"r":1.30},{"m":1432,"w":1.02,"r":0.85},{"m":1435,"w":1.40,"r":1.15},{"m":1438,"w":1.22,"r":1.00}
]},
"layer":[
{"data":{"name":"ws"},
 "mark":{"type":"point","filled":true,"size":38,"opacity":1,"clip":true},
 "encoding":{
  "x":{"field":"m","type":"quantitative","scale":{"domain":[0,1440],"nice":false,"zero":false},
   "axis":{"values":[0,60,120,180,240,300,360,420,480,540,600,660,720,780,840,900,960,1020,1080,1140,1200,1260,1320,1380,1440],
    "labelExpr":"(datum.value/60)%24 < 10 ? '0' + ((datum.value/60)%24) : '' + ((datum.value/60)%24)",
    "title":null,"grid":true,"gridColor":"black","gridDash":[1,3],"gridWidth":0.8,"gridOpacity":1,"domain":false,
    "tickSize":-5,"tickColor":"black","tickWidth":1,"labelPadding":10,"labelFontSize":19,"labelColor":"black","labelFlush":false,"labelOverlap":false,"labelFont":"DejaVu Sans"}},
  "y":{"field":"w","type":"quantitative","scale":{"domain":[0,4],"nice":false},
   "axis":{"values":[0,0.5,1,1.5,2,2.5,3,3.5,4],"format":".1f","title":"Wind speed (m/s)","titleFontSize":19,"titleFontWeight":"normal","titleColor":"black","titleFont":"DejaVu Sans","titlePadding":5,
    "grid":true,"gridColor":"black","gridDash":[1,3],"gridWidth":0.8,"gridOpacity":1,"domain":false,
    "tickSize":-5,"tickColor":"black","tickWidth":1,"labelPadding":11,"labelFontSize":19,"labelColor":"black","labelFlush":false,"labelOverlap":false,"labelFont":"DejaVu Sans"}},
  "color":{"field":"w","type":"quantitative","scale":{"domain":[0,0.6,1,1.5,2,2.9],"range":["#dde9ff","#aaccff","#84b4ff","#4c92ff","#2270ff","#0040e0"],"interpolate":"rgb"},"legend":null}
 }},
{"data":{"name":"ws"},
 "mark":{"type":"point","filled":true,"size":38,"opacity":1,"clip":true},
 "encoding":{
  "x":{"field":"m","type":"quantitative","scale":{"domain":[0,1440],"nice":false,"zero":false},"axis":null},
  "y":{"field":"r","type":"quantitative","scale":{"domain":[0,4],"nice":false},"axis":null},
  "color":{"field":"r","type":"quantitative","scale":{"domain":[0,1,1.6,2.45],"range":["#b4b4b4","#7c7c7c","#4a4a4a","#000000"],"interpolate":"rgb"},"legend":null}
 }},
{"data":{"values":[{"s":"Wind speed (0.938 m/s)"},{"s":"Resultant wind speed (0.724 m/s)"}]},
 "mark":{"type":"point","filled":true,"opacity":1},
 "encoding":{
  "x":{"field":"m","type":"quantitative","scale":{"domain":[0,1440],"nice":false,"zero":false},
   "axis":{"orient":"top","labels":false,"grid":false,"domain":false,"title":null,"tickSize":-5,"tickColor":"black","tickWidth":1,
    "values":[0,60,120,180,240,300,360,420,480,540,600,660,720,780,840,900,960,1020,1080,1140,1200,1260,1320,1380,1440]}},
  "y":{"field":"v","type":"quantitative","scale":{"domain":[0,4],"nice":false},
   "axis":{"orient":"right","labels":false,"grid":false,"domain":false,"title":null,"tickSize":-5,"tickColor":"black","tickWidth":1,
    "values":[0,0.5,1,1.5,2,2.5,3,3.5,4]}},
  "color":{"field":"s","type":"nominal","scale":{"domain":["Wind speed (0.938 m/s)","Resultant wind speed (0.724 m/s)"],"range":["#0000ff","#000000"]},
   "legend":{"orient":"none","legendX":-17,"legendY":-46,"direction":"horizontal","title":null,
    "symbolType":"M-1.69,-0.03a0.22,0.22 0 1,0 0.44,0a0.22,0.22 0 1,0 -0.44,0M-0.2,-0.1a0.22,0.22 0 1,0 0.44,0a0.22,0.22 0 1,0 -0.44,0M1.11,0.13a0.22,0.22 0 1,0 0.44,0a0.22,0.22 0 1,0 -0.44,0Z",
    "symbolSize":400,"symbolOffset":10,"symbolOpacity":1,"symbolStrokeWidth":0,"labelOffset":25,"labelFontSize":19.4,"labelFont":"DejaVu Sans","labelColor":"black","labelLimit":600,
    "columnPadding":39,"padding":7,"strokeColor":"black","fillColor":"white","cornerRadius":0}}
 }}
],
"resolve":{"scale":{"color":"independent"},"axis":{"x":"independent","y":"independent"},"legend":{"color":"independent"}},
"config":{"font":"DejaVu Sans","view":{"stroke":"black","strokeWidth":1}}
}
